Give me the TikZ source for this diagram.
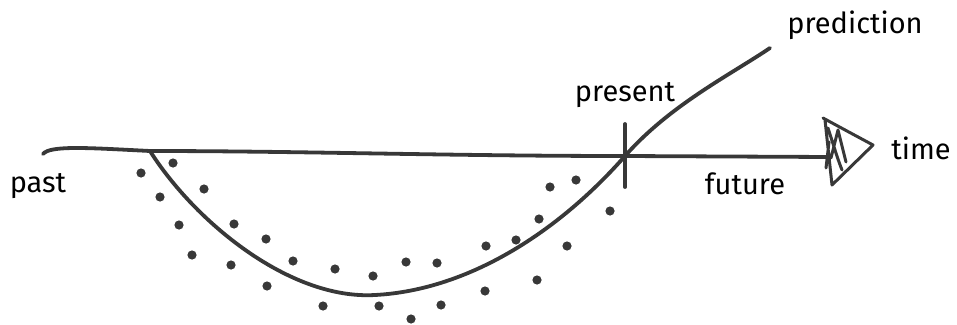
\documentclass[tikz,border=0pt]{standalone}
\usepackage{fontspec}
\setmainfont{Fira Sans}
\begin{document}
\begin{tikzpicture}[x=1pt,y=-1pt,
  ink/.style={draw=inkc,line width=3.8pt,line cap=round,line join=round},
  dot/.style={fill=inkc,draw=none},
  lbl/.style={text=black,font=\fontsize{29}{29}\selectfont,inner sep=0pt}]
\definecolor{inkc}{HTML}{383838}
\useasboundingbox (0,0) rectangle (957,324);
% timeline
\coordinate (start) at (43,154);
\coordinate (kink) at (150,151);
\coordinate (bottom) at (375,295);
\coordinate (now) at (625,156);
\coordinate (tip) at (830,157);
\coordinate (predend) at (770,48);
\draw[ink] (start) .. controls (50,145) and (90,148) .. (kink) .. controls (300,151) and (450,156) .. (now) -- (tip);
% arrowhead (sketchy)
\draw[ink,line width=3pt] (823,118) .. controls (845,130) and (860,138) .. (873,145) -- (832,185) -- (825,120)
  (828,128) .. controls (835,150) and (838,160) .. (842,170) (831,158) -- (838,130) -- (846,162) (826,168) -- (829,142);
% tick
\draw[ink] (625,124) -- (625,187);
% fitted curve
\draw[ink] (kink) .. controls (195,222) and (290,300) .. (bottom) .. controls (470,290) and (560,230) .. (now) .. controls (670,105) and (730,75) .. (predend);
% data dots
\foreach \p in {(173,163),(141,173),(204,189),(160,197),(234,224),(179,225),(266,239),(192,255),(231,265),(293,261),(267,286),
  (335,269),(323,306),(373,276),(379,306),(406,262),(437,263),(411,319),(441,305),(486,246),(485,291),(516,240),(539,219),(537,280),(567,246),(610,211),(550,187),(576,180)}
  \fill[dot] \p circle (4.6);
% labels
\node[lbl] (past) at (38,186) {past};
\node[lbl] (present) at (625,95) {present};
\node[lbl] (future) at (745,184) {future};
\node[lbl] (time) at (921,148) {time};
\node[lbl] (prediction) at (855,25) {prediction};
\end{tikzpicture}
\end{document}
